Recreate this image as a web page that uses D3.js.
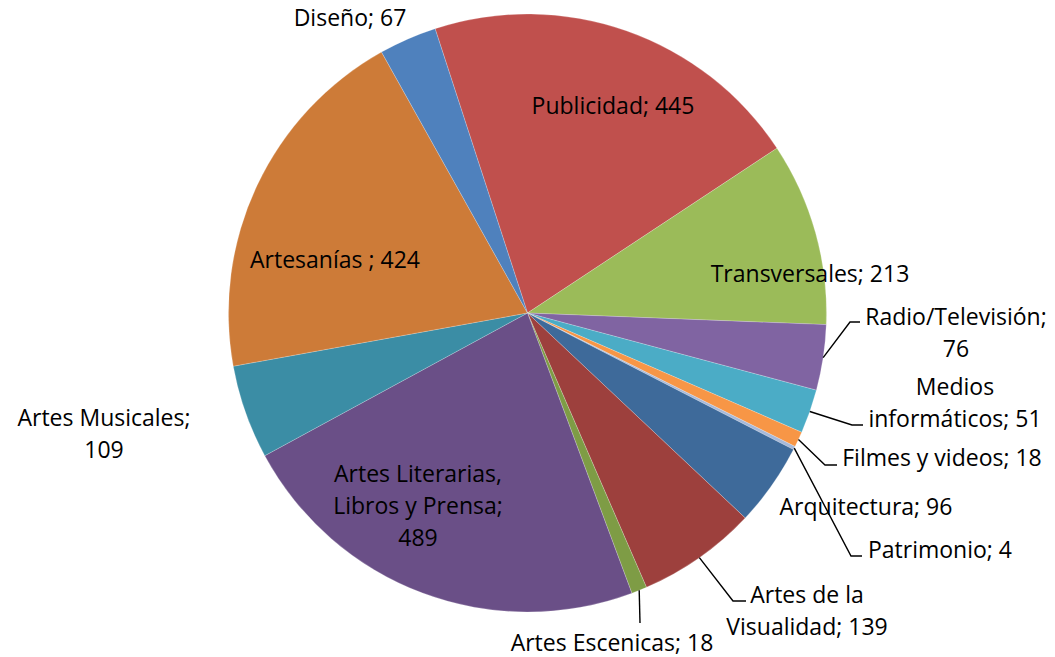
<!DOCTYPE html>
<html>
<head>
<meta charset="utf-8">
<script src="https://cdn.jsdelivr.net/npm/d3@7"></script>
<style>
    body { margin: 0; background: #ffffff; }
    svg text { font-family: "Open Sans", sans-serif; font-size: 23px; fill: #000; }
</style>
</head>
<body>
<svg id="drawing_region"></svg>
<script>
// categories clockwise, starting from Publicidad
const categories = ["Publicidad", "Transversales", "Radio/Televisión", "Medios informáticos",
    "Filmes y videos", "Patrimonio", "Arquitectura", "Artes de la Visualidad", "Artes Escenicas",
    "Artes Literarias, Libros y Prensa", "Artes Musicales", "Artesanías ", "Diseño"];
const values = [445, 213, 76, 51, 18, 4, 96, 139, 18, 489, 109, 424, 67];
const colors = ["#C0504D", "#9BBB59", "#8064A2", "#4BACC6", "#F79646", "#A7B9D9", "#3E6A9A",
    "#9D403D", "#7E9C45", "#6A4F87", "#3B8DA5", "#CD7B38", "#4F81BD"];

// label placement: baseline of first line, line breaks (words per line), optional leader elbow/end
const labelLayout = {
    "Publicidad": { x: 613, y: 114, breaks: [] },
    "Transversales": { x: 810, y: 282, breaks: [] },
    "Radio/Televisión": { x: 956, y: 325, breaks: [1], elbow: [850, 322], end: [860, 322] },
    "Medios informáticos": { x: 955, y: 395, breaks: [1], elbow: [852, 425], end: [863, 425] },
    "Filmes y videos": { x: 942, y: 466, breaks: [], elbow: [825, 465], end: [837, 465] },
    "Patrimonio": { x: 940, y: 558, breaks: [], elbow: [851, 556], end: [862, 556] },
    "Arquitectura": { x: 866, y: 515, breaks: [] },
    "Artes de la Visualidad": { x: 807, y: 603, breaks: [3], elbow: [733, 601], end: [746, 601] },
    "Artes Escenicas": { x: 612, y: 651, breaks: [], elbow: [640, 623], end: [640, 623] },
    "Artes Literarias, Libros y Prensa": { x: 418, y: 482, breaks: [2, 5] },
    "Artes Musicales": { x: 104, y: 426, breaks: [2] },
    "Artesanías ": { x: 335, y: 268, breaks: [] },
    "Diseño": { x: 350, y: 26, breaks: [] }
};

const config = {
    width: 1055,
    height: 657,
    cx: 527.5,
    cy: 313,
    radius: 299,
    lineHeight: 32,
    firstAngle: -18
};

const data = categories.map((c, i) => ({ name: c, value: values[i], color: colors[i] }));

const svg = d3.select('#drawing_region')
    .attr('width', config.width)
    .attr('height', config.height);

const chart = svg.append('g')
    .attr('transform', `translate(${config.cx}, ${config.cy})`);

const start = config.firstAngle * Math.PI / 180;
const pie = d3.pie()
    .sort(null)
    .value(d => d.value)
    .startAngle(start)
    .endAngle(start + 2 * Math.PI);

const arc = d3.arc()
    .innerRadius(0)
    .outerRadius(config.radius);

const edge = d3.arc()
    .innerRadius(config.radius)
    .outerRadius(config.radius);

const arcs = pie(data);

chart.selectAll('path.slice')
    .data(arcs)
    .enter()
    .append('path')
    .attr('class', 'slice')
    .attr('d', arc)
    .attr('fill', d => d.data.color)
    .attr('stroke', '#ffffff')
    .attr('stroke-opacity', 0.35)
    .attr('stroke-width', 0.6);

// leader lines
arcs.forEach(d => {
    const lay = labelLayout[d.data.name];
    if (!lay.elbow) return;
    const p = edge.centroid(d);
    const pts = [
        [p[0] + config.cx, p[1] + config.cy],
        lay.elbow,
        lay.end
    ];
    svg.append('path')
        .attr('d', d3.line()(pts))
        .attr('fill', 'none')
        .attr('stroke', '#000')
        .attr('stroke-width', 1.4);
});

// labels
arcs.forEach(d => {
    const lay = labelLayout[d.data.name];
    const words = `${d.data.name}; ${d.data.value}`.split(' ').filter(w => w.length);
    // "Artesanías ; 424" keeps its space before the semicolon
    const full = `${d.data.name}; ${d.data.value}`;
    let lines = [];
    if (lay.breaks.length === 0) {
        lines = [full];
    } else {
        let prev = 0;
        lay.breaks.forEach(b => { lines.push(words.slice(prev, b).join(' ')); prev = b; });
        lines.push(words.slice(prev).join(' '));
    }
    const text = svg.append('text')
        .attr('text-anchor', 'middle');
    lines.forEach((ln, i) => {
        text.append('tspan')
            .attr('x', lay.x)
            .attr('y', lay.y + i * config.lineHeight)
            .text(ln);
    });
});
</script>
</body>
</html>
